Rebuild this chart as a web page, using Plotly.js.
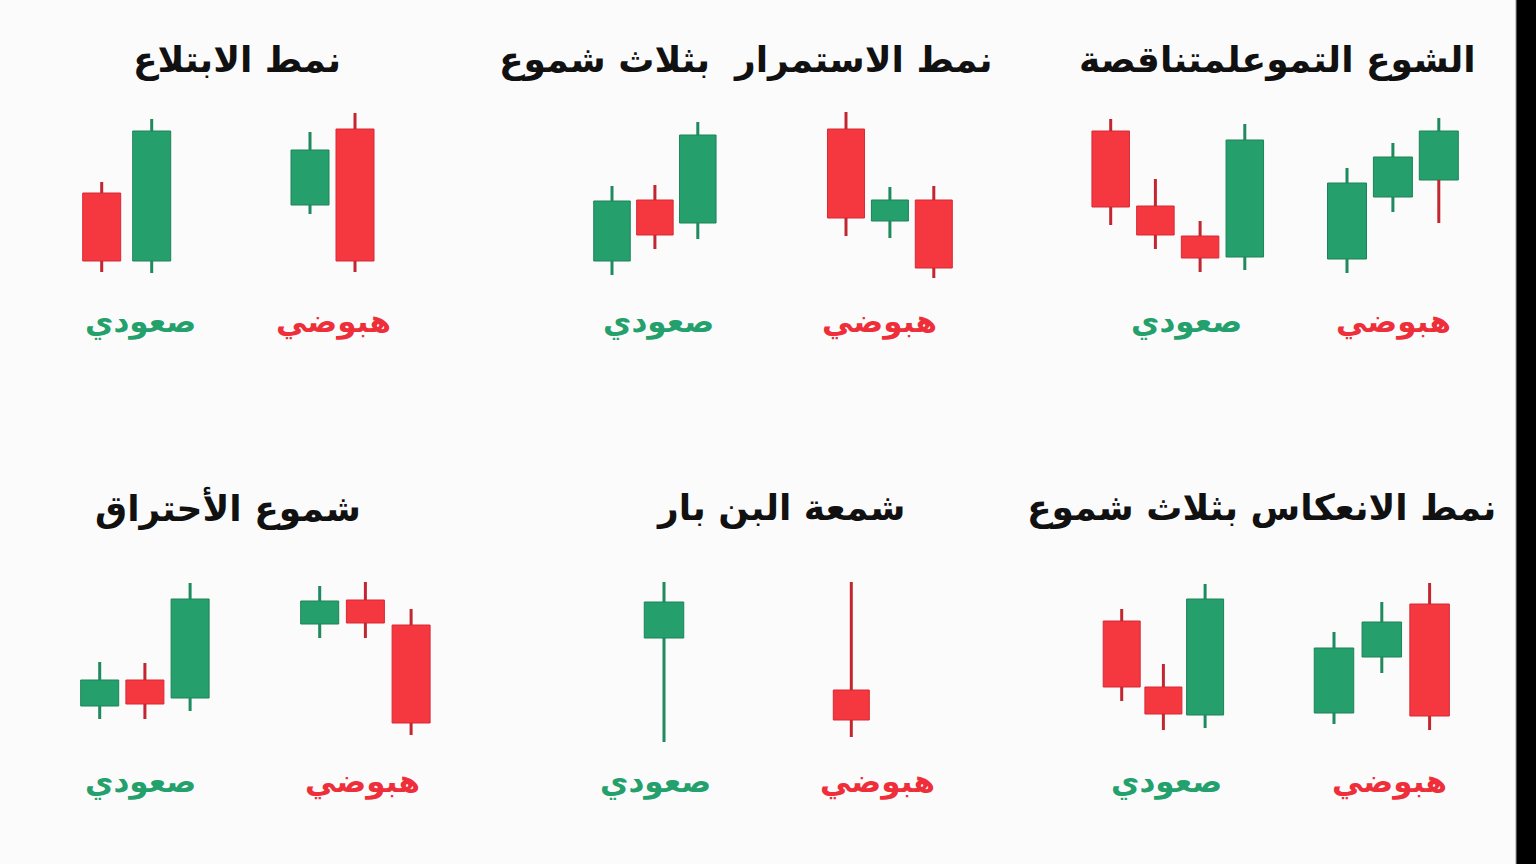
<!DOCTYPE html>
<html><head><meta charset="utf-8">
<script src="https://cdn.plot.ly/plotly-3.0.1.min.js"></script>
<style>html,body{margin:0;padding:0;background:#fbfbfb;overflow:hidden}#chart{width:1536px;height:864px}</style>
</head><body><div id="chart"></div><script>
// ---------- DATA (candles as [open, high, low, close]) ----------
const titles = ['نمط الابتلاع', 'نمط الاستمرار  بثلاث شموع', 'الشوع التموعلمتناقصة',
                'شموع الأحتراق', 'شمعة البن بار', 'نمط الانعكاس بثلاث شموع'];
const labelBull = 'صعودي';
const labelBear = 'هبوضي';

const engulfingBull = [[53.5, 59, 14, 19.5], [19.5, 90.5, 13.5, 84.5]];
const engulfingBear = [[47.5, 84, 43, 75], [85.5, 93.5, 14, 19.5]];
const continuationBull = [[19.5, 57, 12.5, 49.5], [50, 57.5, 25.5, 32.5], [38.5, 89, 30.5, 82.5]];
const continuationBear = [[85.5, 94, 32, 41], [39.5, 56.5, 31, 50], [50, 57, 11, 16]];
const waveBull = [[84.5, 90.5, 37.5, 46.5], [47, 60.5, 25.5, 32.5], [32, 39.5, 14, 21], [21.5, 88, 15, 80]];
const waveBear = [[20.5, 66, 13.5, 58.5], [51.5, 78.5, 44, 71.5], [60, 91, 38.5, 84.5]];
const burnBull = [[27, 49, 20.5, 40], [40, 48.5, 20.5, 28], [31, 88.5, 24.5, 80.5]];
const burnBear = [[68, 87, 61, 79.5], [80, 89, 61, 68.5], [67.5, 75.5, 12.5, 18.5]];
const pinBull = [[61, 89, 9, 79]];
const pinBear = [[35, 89, 11.5, 20]];
const reversalBull = [[69.5, 75.5, 29.5, 36.5], [36.5, 48, 15, 23], [22.5, 88, 16, 80.5]];
const reversalBear = [[23.5, 64, 18, 56], [51.5, 79, 43.5, 69], [78, 88.5, 15, 22]];

// ---------- STYLE / LAYOUT ----------
const W = 1536, H = 864;
const GREEN = '#25a06c', GREEN_EDGE = '#1d8257', GREEN_WICK = '#1f8a5e';
const RED = '#f5373f', RED_EDGE = '#d62b34', RED_WICK = '#c22630';
const LABEL_GREEN = '#23a06b', LABEL_RED = '#ee2f3a';
const FONT = 'DejaVu Sans, Noto Sans, sans-serif';

const rows = [
  {top: 100, bottom: 300, title: 60, label: 321},
  {top: 560, bottom: 760, title: 508, label: 781}
];
const titleX = [237, 746, 1277, 228, 780, 1261];

const groups = [
  {candles: engulfingBull, row: 0, c0: 101.7, s: 50, w: 38, label: labelBull, labelX: 140},
  {candles: engulfingBear, row: 0, c0: 310, s: 45, w: 38, label: labelBear, labelX: 333},
  {candles: continuationBull, row: 0, c0: 612, s: 42.9, w: 36.5, label: labelBull, labelX: 658},
  {candles: continuationBear, row: 0, c0: 846, s: 43.9, w: 37, label: labelBear, labelX: 879},
  {candles: waveBull, row: 0, c0: 1110.7, s: 44.7, w: 37.5, label: labelBull, labelX: 1186},
  {candles: waveBear, row: 0, c0: 1347, s: 45.9, w: 39, label: labelBear, labelX: 1393, redLowerWick: [false, false, true]},
  {candles: burnBull, row: 1, c0: 99.7, s: 45.2, w: 38, label: labelBull, labelX: 140},
  {candles: burnBear, row: 1, c0: 319.7, s: 45.7, w: 38, label: labelBear, labelX: 362},
  {candles: pinBull, row: 1, c0: 664, s: 45, w: 39.5, label: labelBull, labelX: 655},
  {candles: pinBear, row: 1, c0: 851.3, s: 45, w: 36, label: labelBear, labelX: 877},
  {candles: reversalBull, row: 1, c0: 1121.7, s: 41.7, w: 37, label: labelBull, labelX: 1166},
  {candles: reversalBear, row: 1, c0: 1334, s: 47.8, w: 39.5, label: labelBear, labelX: 1389}
];

const traces = [];
const layout = {
  width: W, height: H,
  margin: {l: 0, r: 0, t: 0, b: 0, pad: 0},
  paper_bgcolor: '#fbfbfb', plot_bgcolor: 'rgba(0,0,0,0)',
  showlegend: false, hovermode: false,
  annotations: [],
  shapes: [
    {type: 'rect', xref: 'paper', yref: 'paper', x0: 1516 / W, x1: 1, y0: 0, y1: 1,
     fillcolor: '#000', line: {width: 0}, layer: 'above'},
    {type: 'line', xref: 'paper', yref: 'paper', x0: 1516 / W, x1: 1516 / W, y0: 0, y1: 1,
     line: {color: '#9a9a9a', width: 1}, layer: 'above'}
  ]
};

groups.forEach((g, k) => {
  const n = g.candles.length;
  const id = k === 0 ? '' : String(k + 1);
  const xa = 'x' + id, ya = 'y' + id;
  const xs = g.candles.map((_, i) => i);
  const up = g.candles.map(c => c[3] >= c[0]);
  traces.push({
    type: 'bar', x: xs,
    base: g.candles.map(c => Math.min(c[0], c[3])),
    y: g.candles.map(c => Math.abs(c[3] - c[0])),
    width: g.w / g.s,
    marker: {color: up.map(u => u ? GREEN : RED),
             line: {color: up.map(u => u ? GREEN_EDGE : RED_EDGE), width: 1}},
    xaxis: xa, yaxis: ya, hoverinfo: 'skip', showlegend: false
  });
  g.candles.forEach((c, i) => {
    const top = Math.max(c[0], c[3]), bot = Math.min(c[0], c[3]);
    const col = up[i] ? GREEN_WICK : RED_WICK;
    const lowCol = (g.redLowerWick && g.redLowerWick[i]) ? RED_WICK : col;
    traces.push({type: 'scatter', mode: 'lines', x: [i, i], y: [top, c[1]],
                 line: {color: col, width: 3}, xaxis: xa, yaxis: ya, hoverinfo: 'skip', showlegend: false});
    traces.push({type: 'scatter', mode: 'lines', x: [i, i], y: [c[2], bot],
                 line: {color: lowCol, width: 3}, xaxis: xa, yaxis: ya, hoverinfo: 'skip', showlegend: false});
  });
  const r = rows[g.row];
  layout['xaxis' + id] = {domain: [(g.c0 - g.s / 2) / W, (g.c0 + (n - 0.5) * g.s) / W],
                          range: [-0.5, n - 0.5], visible: false, fixedrange: true, anchor: ya};
  layout['yaxis' + id] = {domain: [1 - r.bottom / H, 1 - r.top / H], range: [0, 100],
                          visible: false, fixedrange: true, anchor: xa};
  layout.annotations.push({
    xref: 'paper', yref: 'paper', x: g.labelX / W, y: 1 - r.label / H,
    xanchor: 'center', yanchor: 'middle', showarrow: false, text: g.label,
    font: {family: FONT, size: 31, weight: 'bold',
           color: g.label === labelBull ? LABEL_GREEN : LABEL_RED}
  });
});

titles.forEach((t, i) => {
  const r = rows[i < 3 ? 0 : 1];
  layout.annotations.push({
    xref: 'paper', yref: 'paper', x: titleX[i] / W, y: 1 - r.title / H,
    xanchor: 'center', yanchor: 'middle', showarrow: false, text: t,
    font: {family: FONT, size: 36, weight: 'bold', color: '#111111'}
  });
});

Plotly.newPlot('chart', traces, layout, {staticPlot: true, displayModeBar: false});
</script></body></html>
